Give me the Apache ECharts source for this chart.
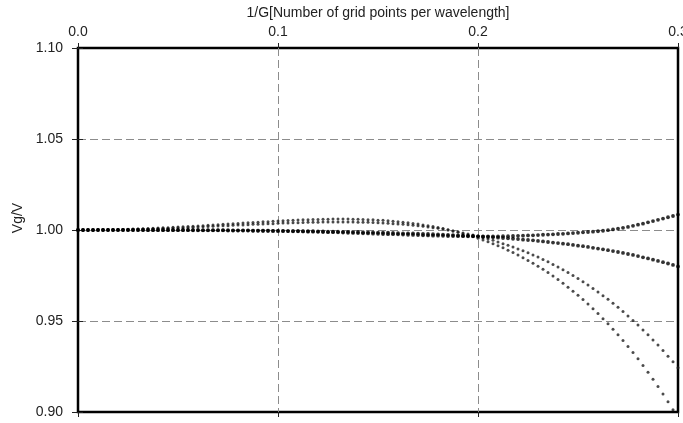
<!DOCTYPE html>
<html>
<head>
<meta charset="utf-8">
<script src="https://cdn.jsdelivr.net/npm/echarts@6/dist/echarts.min.js"></script>
<style>
  html, body { margin: 0; padding: 0; background: #fff; }
  #chart { width: 683px; height: 423px; }
</style>
</head>
<body>
<div id="chart"></div>
<script>
// Sampling positions along 1/G
const invG = [
  0.0000, 0.0025, 0.0050, 0.0075, 0.0100, 0.0125, 0.0150, 0.0175, 0.0200, 0.0225,
  0.0250, 0.0275, 0.0300, 0.0325, 0.0350, 0.0375, 0.0400, 0.0425, 0.0450, 0.0475,
  0.0500, 0.0525, 0.0550, 0.0575, 0.0600, 0.0625, 0.0650, 0.0675, 0.0700, 0.0725,
  0.0750, 0.0775, 0.0800, 0.0825, 0.0850, 0.0875, 0.0900, 0.0925, 0.0950, 0.0975,
  0.1000, 0.1025, 0.1050, 0.1075, 0.1100, 0.1125, 0.1150, 0.1175, 0.1200, 0.1225,
  0.1250, 0.1275, 0.1300, 0.1325, 0.1350, 0.1375, 0.1400, 0.1425, 0.1450, 0.1475,
  0.1500, 0.1525, 0.1550, 0.1575, 0.1600, 0.1625, 0.1650, 0.1675, 0.1700, 0.1725,
  0.1750, 0.1775, 0.1800, 0.1825, 0.1850, 0.1875, 0.1900, 0.1925, 0.1950, 0.1975,
  0.2000, 0.2025, 0.2050, 0.2075, 0.2100, 0.2125, 0.2150, 0.2175, 0.2200, 0.2225,
  0.2250, 0.2275, 0.2300, 0.2325, 0.2350, 0.2375, 0.2400, 0.2425, 0.2450, 0.2475,
  0.2500, 0.2525, 0.2550, 0.2575, 0.2600, 0.2625, 0.2650, 0.2675, 0.2700, 0.2725,
  0.2750, 0.2775, 0.2800, 0.2825, 0.2850, 0.2875, 0.2900, 0.2925, 0.2950, 0.2975,
  0.3000
];

// Vg/V, curve rising at the right edge
const curveRise = [
  1.0000, 1.0000, 1.0000, 1.0000, 1.0000, 1.0000, 1.0000, 1.0000, 1.0000, 1.0000,
  1.0000, 1.0000, 1.0000, 1.0000, 1.0000, 1.0000, 1.0000, 1.0000, 1.0000, 1.0000,
  1.0000, 1.0000, 1.0000, 1.0000, 1.0000, 0.9999, 0.9999, 0.9999, 0.9999, 0.9999,
  0.9999, 0.9998, 0.9998, 0.9998, 0.9998, 0.9997, 0.9997, 0.9996, 0.9996, 0.9995,
  0.9995, 0.9994, 0.9994, 0.9993, 0.9993, 0.9992, 0.9991, 0.9991, 0.9990, 0.9989,
  0.9988, 0.9988, 0.9987, 0.9986, 0.9985, 0.9984, 0.9983, 0.9982, 0.9981, 0.9980,
  0.9979, 0.9978, 0.9977, 0.9977, 0.9976, 0.9975, 0.9974, 0.9973, 0.9972, 0.9971,
  0.9970, 0.9969, 0.9969, 0.9968, 0.9967, 0.9967, 0.9966, 0.9966, 0.9965, 0.9965,
  0.9965, 0.9965, 0.9965, 0.9965, 0.9965, 0.9966, 0.9966, 0.9967, 0.9968, 0.9969,
  0.9970, 0.9971, 0.9972, 0.9974, 0.9975, 0.9976, 0.9978, 0.9979, 0.9981, 0.9983,
  0.9985, 0.9987, 0.9989, 0.9991, 0.9993, 0.9996, 0.9999, 1.0003, 1.0007, 1.0012,
  1.0017, 1.0023, 1.0029, 1.0035, 1.0042, 1.0049, 1.0056, 1.0063, 1.0070, 1.0077,
  1.0085
];

// Vg/V, curve sagging gently to 0.98
const curveSag = [
  1.0000, 1.0000, 1.0000, 1.0000, 1.0000, 1.0000, 1.0000, 1.0000, 1.0000, 1.0000,
  1.0000, 1.0000, 1.0000, 1.0000, 0.9999, 0.9999, 0.9999, 0.9999, 0.9999, 0.9999,
  0.9999, 0.9999, 0.9999, 0.9998, 0.9998, 0.9998, 0.9998, 0.9998, 0.9998, 0.9998,
  0.9997, 0.9997, 0.9997, 0.9997, 0.9997, 0.9996, 0.9996, 0.9996, 0.9996, 0.9995,
  0.9995, 0.9995, 0.9994, 0.9994, 0.9994, 0.9993, 0.9993, 0.9993, 0.9992, 0.9992,
  0.9991, 0.9991, 0.9991, 0.9990, 0.9990, 0.9989, 0.9989, 0.9988, 0.9987, 0.9987,
  0.9986, 0.9985, 0.9985, 0.9984, 0.9983, 0.9982, 0.9982, 0.9981, 0.9980, 0.9979,
  0.9978, 0.9977, 0.9976, 0.9975, 0.9973, 0.9972, 0.9971, 0.9969, 0.9968, 0.9967,
  0.9965, 0.9963, 0.9962, 0.9960, 0.9958, 0.9956, 0.9954, 0.9952, 0.9950, 0.9947,
  0.9945, 0.9943, 0.9940, 0.9937, 0.9934, 0.9931, 0.9928, 0.9925, 0.9922, 0.9918,
  0.9914, 0.9911, 0.9907, 0.9902, 0.9898, 0.9894, 0.9889, 0.9884, 0.9879, 0.9874,
  0.9868, 0.9863, 0.9857, 0.9850, 0.9844, 0.9837, 0.9830, 0.9823, 0.9816, 0.9808,
  0.9800
];

// Vg/V, curve with a small hump, then falling to about 0.924
const curveFall = [
  1.0000, 1.0000, 1.0000, 1.0000, 1.0001, 1.0001, 1.0001, 1.0002, 1.0002, 1.0003,
  1.0003, 1.0004, 1.0005, 1.0005, 1.0006, 1.0007, 1.0008, 1.0009, 1.0010, 1.0011,
  1.0012, 1.0013, 1.0014, 1.0015, 1.0017, 1.0018, 1.0019, 1.0020, 1.0022, 1.0023,
  1.0024, 1.0026, 1.0027, 1.0028, 1.0029, 1.0031, 1.0032, 1.0033, 1.0034, 1.0035,
  1.0037, 1.0038, 1.0039, 1.0040, 1.0040, 1.0041, 1.0042, 1.0043, 1.0043, 1.0044,
  1.0044, 1.0044, 1.0044, 1.0044, 1.0044, 1.0044, 1.0043, 1.0043, 1.0042, 1.0041,
  1.0040, 1.0038, 1.0037, 1.0035, 1.0033, 1.0031, 1.0029, 1.0026, 1.0023, 1.0020,
  1.0017, 1.0013, 1.0009, 1.0005, 1.0000, 0.9995, 0.9990, 0.9984, 0.9978, 0.9972,
  0.9965, 0.9958, 0.9950, 0.9943, 0.9934, 0.9925, 0.9916, 0.9907, 0.9896, 0.9886,
  0.9875, 0.9863, 0.9851, 0.9838, 0.9825, 0.9811, 0.9797, 0.9782, 0.9766, 0.9750,
  0.9733, 0.9716, 0.9698, 0.9679, 0.9660, 0.9639, 0.9619, 0.9597, 0.9575, 0.9552,
  0.9528, 0.9503, 0.9478, 0.9451, 0.9424, 0.9396, 0.9368, 0.9338, 0.9307, 0.9276,
  0.9243
];

// Vg/V, curve with the larger hump, then the steepest fall
const curveSteep = [
  1.0000, 1.0000, 1.0000, 1.0000, 1.0001, 1.0001, 1.0002, 1.0002, 1.0003, 1.0003,
  1.0004, 1.0005, 1.0006, 1.0007, 1.0008, 1.0009, 1.0011, 1.0012, 1.0013, 1.0015,
  1.0016, 1.0018, 1.0019, 1.0021, 1.0022, 1.0024, 1.0026, 1.0027, 1.0029, 1.0031,
  1.0033, 1.0034, 1.0036, 1.0038, 1.0040, 1.0041, 1.0043, 1.0045, 1.0046, 1.0048,
  1.0049, 1.0051, 1.0052, 1.0053, 1.0055, 1.0056, 1.0057, 1.0058, 1.0058, 1.0059,
  1.0059, 1.0060, 1.0060, 1.0060, 1.0060, 1.0059, 1.0059, 1.0058, 1.0057, 1.0056,
  1.0054, 1.0053, 1.0051, 1.0048, 1.0046, 1.0043, 1.0040, 1.0036, 1.0033, 1.0028,
  1.0024, 1.0019, 1.0014, 1.0008, 1.0002, 0.9995, 0.9988, 0.9980, 0.9972, 0.9964,
  0.9955, 0.9945, 0.9935, 0.9925, 0.9914, 0.9902, 0.9889, 0.9876, 0.9863, 0.9848,
  0.9833, 0.9817, 0.9801, 0.9784, 0.9766, 0.9747, 0.9728, 0.9707, 0.9686, 0.9664,
  0.9641, 0.9618, 0.9593, 0.9567, 0.9541, 0.9513, 0.9485, 0.9455, 0.9425, 0.9393,
  0.9360, 0.9327, 0.9292, 0.9256, 0.9218, 0.9180, 0.9140, 0.9099, 0.9057, 0.9013,
  0.8969
];

const xTitle = '1/G[Number of grid points per wavelength]';
const yTitle = 'Vg/V';

const FONT = '"Liberation Sans", Arial, Helvetica, sans-serif';
const TEXT = '#222';

function pairs(ys) {
  return invG.map((x, i) => [x, ys[i]]);
}

const dashed = { show: true, lineStyle: { color: '#8c8c8c', width: 1, type: [8, 4] }, showMinLine: false, showMaxLine: false };
const tick = (len) => ({ show: true, length: len, lineStyle: { color: '#222', width: 1 } });

function dots(data, size, color) {
  return {
    type: 'scatter',
    data: data,
    symbol: 'circle',
    symbolSize: size,
    itemStyle: { color: color },
    silent: true,
    clip: true
  };
}

const chart = echarts.init(document.getElementById('chart'), null, { renderer: 'canvas' });
chart.setOption({
  animation: false,
  backgroundColor: '#fff',
  grid: {
    left: 78, right: 5, top: 48, bottom: 11,
    outerBoundsMode: 'none',
    containLabel: false,
    show: true, borderColor: '#000', borderWidth: 2.5, backgroundColor: 'transparent'
  },
  xAxis: [
    {
      type: 'value', position: 'top', min: 0, max: 0.3, interval: 0.1,
      name: xTitle, nameLocation: 'middle', nameGap: 27,
      nameTextStyle: { fontFamily: FONT, fontSize: 14, color: TEXT },
      axisLine: { show: false },
      axisTick: tick(5),
      axisLabel: { margin: 9, fontFamily: FONT, fontSize: 14, color: TEXT, formatter: (v) => v.toFixed(1) },
      splitLine: dashed
    },
    {
      type: 'value', position: 'bottom', min: 0, max: 0.3, interval: 0.1,
      axisLine: { show: false },
      axisTick: tick(5),
      axisLabel: { show: false },
      splitLine: { show: false }
    }
  ],
  yAxis: [
    {
      type: 'value', position: 'left', min: 0.9, max: 1.1, interval: 0.05,
      name: yTitle, nameLocation: 'middle', nameGap: 46, nameRotate: 90,
      nameTextStyle: { fontFamily: FONT, fontSize: 14, color: TEXT, padding: [0, 0, 0, 24] },
      axisLine: { show: false },
      axisTick: tick(6),
      axisLabel: { margin: 15, fontFamily: FONT, fontSize: 14, color: TEXT, formatter: (v) => v.toFixed(2) },
      splitLine: dashed
    },
    {
      type: 'value', position: 'right', min: 0.9, max: 1.1, interval: 0.05,
      axisLine: { show: false },
      axisTick: tick(5),
      axisLabel: { show: false },
      splitLine: { show: false }
    }
  ],
  series: [
    dots(pairs(curveFall), 3, '#1e1e1e'),
    dots(pairs(curveSteep), 3, '#1e1e1e'),
    dots(pairs(curveSag), 3.8, '#000'),
    dots(pairs(curveRise), 3.8, '#000')
  ]
});
</script>
</body>
</html>
